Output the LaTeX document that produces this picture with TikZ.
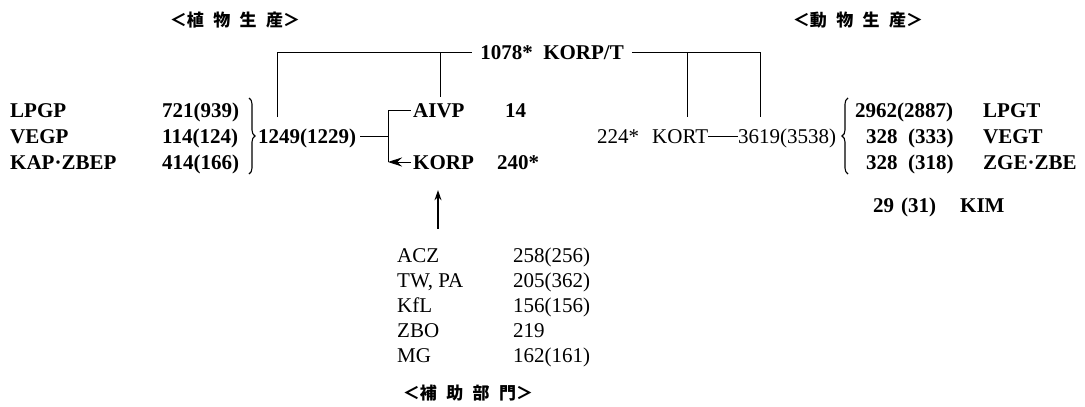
\documentclass[tikz,border=0pt]{standalone}
\usepackage{fontspec}
\setmainfont{Liberation Serif}
\newfontfamily\cjk{Noto Sans CJK JP}
\usepackage{tikz}
\usetikzlibrary{arrows.meta,positioning,calc,decorations.pathreplacing}

\begin{document}
\begin{tikzpicture}[
    x=1pt, y=-1pt,
    lbl/.style = {anchor=west, inner sep=0pt, text height=14pt, text depth=0pt, font=\fontsize{21}{24}\selectfont\bfseries},
    val/.style = {anchor=west, inner sep=0pt, text height=14pt, text depth=0pt, font=\fontsize{21}{24}\selectfont},
    head/.style = {inner sep=0pt, font=\cjk\fontsize{17}{20}\selectfont\bfseries},
    wire/.style = {line width=0.8pt},
    brc/.style = {decorate, decoration={brace, amplitude=6pt}, line width=1.1pt}
]
    \useasboundingbox (0,0) rectangle (1085,407);

    % headings
    \node[head] (plant) at (235,20) {＜植\hspace{0.55em}物\hspace{0.55em}生\hspace{0.55em}産＞};
    \node[head] (animal) at (858,20) {＜動\hspace{0.55em}物\hspace{0.55em}生\hspace{0.55em}産＞};
    \node[head] (aux) at (468,393) {＜補\hspace{0.55em}助\hspace{0.55em}部\hspace{0.55em}門＞};

    % plant side
    \node[lbl] (lpgp) at (10,110) {LPGP};
    \node[lbl] (vegp) at (10,136) {VEGP};
    \node[lbl] (kap) at (10,162) {KAP·ZBEP};
    \node[lbl] (v721) at (162,110) {721(939)};
    \node[lbl] (v114) at (162,136) {114(124)};
    \node[lbl] (v414) at (162,162) {414(166)};
    \draw[brc] (249,98) -- (249,174);
    \node[lbl] (v1249) at (258,136) {1249(1229)};

    \coordinate (split) at (388,136);
    \coordinate (st) at (388,110);
    \coordinate (sb) at (388,162);
    \node[lbl] (aivp) at (413,110) {AIVP};
    \node[lbl] (v14) at (505,110) {14};
    \node[lbl] (korp) at (413,162) {KORP};
    \node[lbl] (v240) at (497,162) {240*};

    \draw[wire] ([xshift=4pt]v1249.east) -- (split);
    \draw[wire] (st) -- (sb);
    \draw[wire] (st) -- ([xshift=-2pt]aivp.west);
    \draw[wire, -{Stealth[length=14pt,width=9pt]}] ([xshift=-2pt]korp.west) -- (sb);

    % KORP/T bracket
    \node[lbl, anchor=center] (korpt) at (552,52) {1078*\ \ KORP/T};
    \coordinate (tl) at (277,52);
    \coordinate (tr) at (760,52);
    \coordinate (tm) at (440,52);
    \coordinate (tk) at (687,52);
    \draw[wire] (277,117) -- (tl) -- ([xshift=-8pt]korpt.west);
    \draw[wire] ([xshift=8pt]korpt.east) -- (tr) -- (760,117);
    \draw[wire] (tm) -- (440,97);
    \draw[wire] (tk) -- (687,117);

    % animal side
    \node[val] (v224) at (597,136) {224*};
    \node[val] (kort) at (652,136) {KORT};
    \node[val] (v3619) at (738,136) {3619(3538)};
    \draw[wire] (kort.east) -- (v3619.west);
    \draw[brc] (848,174) -- (848,98);
    \node[lbl] (v2962) at (855,110) {2962(2887)};
    \node[lbl] (v328a) at (866,136) {328};
    \node[lbl] (p333) at (908,136) {(333)};
    \node[lbl] (v328b) at (866,162) {328};
    \node[lbl] (p318) at (908,162) {(318)};
    \node[lbl] (lpgt) at (983,110) {LPGT};
    \node[lbl] (vegt) at (983,136) {VEGT};
    \node[lbl] (zge) at (983,162) {ZGE·ZBE};
    \node[lbl] (v29) at (873,205) {29};
    \node[lbl] (p31) at (901,205) {(31)};
    \node[lbl] (kim) at (960,205) {KIM};

    % support departments
    \node[val] (acz) at (397,255) {ACZ};
    \node[val] (twpa) at (397,280) {TW, PA};
    \node[val] (kfl) at (397,305) {KfL};
    \node[val] (zbo) at (397,330) {ZBO};
    \node[val] (mg) at (397,355) {MG};
    \node[val] (v258) at (513,255) {258(256)};
    \node[val] (v205) at (513,280) {205(362)};
    \node[val] (v156) at (513,305) {156(156)};
    \node[val] (v219) at (513,330) {219};
    \node[val] (v162) at (513,355) {162(161)};
    \draw[line width=1.1pt, -{Stealth[length=10pt,width=7pt]}, shorten <=19pt, shorten >=21pt] (acz.north -| 438,0) -- (korp.south -| 438,0);
\end{tikzpicture}
\end{document}
